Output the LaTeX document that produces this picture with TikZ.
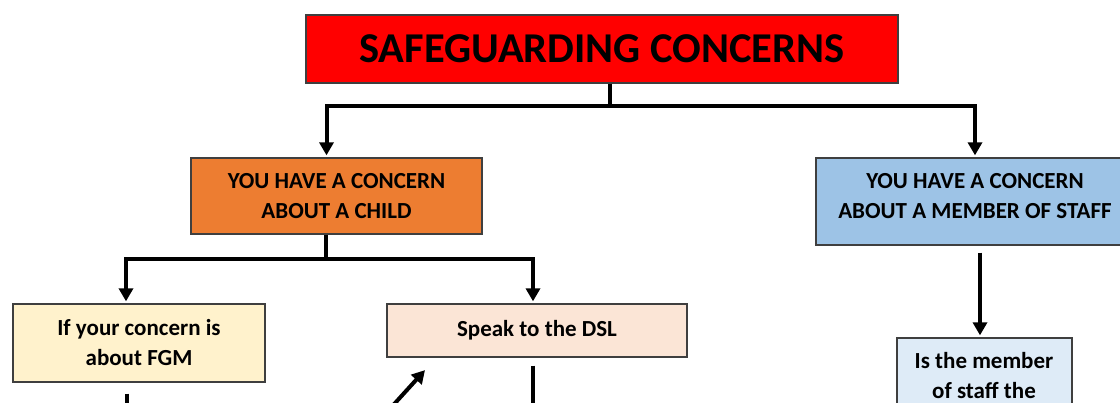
\documentclass[tikz,border=0pt]{standalone}
\usepackage{fontspec}
\setmainfont{Carlito}
\usetikzlibrary{arrows.meta}
\definecolor{tred}{HTML}{FF0000}
\definecolor{torange}{HTML}{ED7D31}
\definecolor{tyellow}{HTML}{FFF2CC}
\definecolor{tpeach}{HTML}{FBE5D6}
\definecolor{tblue}{HTML}{9DC3E6}
\definecolor{tlblue}{HTML}{DEEBF7}
\definecolor{boxline}{HTML}{3F3F3F}
\begin{document}
\begin{tikzpicture}[x=1pt,y=-1pt,
  box/.style={draw=boxline, line width=1.3pt, inner sep=0pt, align=center,
    font=\bfseries\fontsize{23}{30}\selectfont},
  txt/.style={inner sep=0pt, align=center, font=\bfseries\fontsize{23}{30}\selectfont},
  seg/.style={line width=4pt},
  conn/.style={line width=4pt, -{Triangle[length=13pt,width=14pt]}, shorten >=2pt}]
\useasboundingbox (0,0) rectangle (1120,403);
\fill[white] (0,0) rectangle (1120,403);
\clip (0,0) rectangle (1120,403);

\node[box, fill=tred, minimum width=592, minimum height=68,
  font=\bfseries\fontsize{42.5}{42.5}\selectfont] (title) at (602,49) {SAFEGUARDING CONCERNS};
\node[box, fill=torange, minimum width=291, minimum height=76] (child) at (336.5,196)
  {YOU HAVE A CONCERN\\ABOUT A CHILD};
\node[box, fill=tyellow, minimum width=252, minimum height=78] (fgm) at (139,343)
  {If your concern is\\about FGM};
\node[box, fill=tpeach, minimum width=300, minimum height=53] (dsl) at (537,330.5)
  {Speak to the DSL};
\node[box, fill=tblue, minimum width=318, minimum height=87] (staff) at (975,201.5) {};
\node[txt] (staffT) at (975,196.5) {YOU HAVE A CONCERN\\ABOUT A MEMBER OF STAFF};
\node[box, fill=tlblue, minimum width=175, minimum height=130] (member) at (984.5,403) {};
\node[txt] (memberT) at (984,375.5) {Is the member\\of staff the};

% title to both concerns
\draw[seg] ([xshift=8pt]title.south) -- ++(0,22) coordinate (j1);
\draw[conn] (j1) -| ([xshift=-10pt]child.north);
\draw[conn] (j1) -| (staff.north);

% child to fgm and dsl
\draw[seg] ([xshift=-11pt]child.south) -- ++(0,24) coordinate (j2);
\draw[conn] (j2) -| ([xshift=-13pt]fgm.north);
\draw[conn] (j2) -| ([xshift=-4pt]dsl.north);

% staff to member
\draw[conn, shorten <=7pt] ([xshift=5pt]staff.south) -- ([xshift=5pt]staff.south |- member.north);

% lines leaving the picture
\coordinate (fgmend) at (127,430);
\draw[seg, shorten <=11pt] (fgm.south -| fgmend) -- (fgmend);
\coordinate (dslend) at (533,430);
\draw[seg, shorten <=8pt] (dsl.south -| dslend) -- (dslend);
\coordinate (dtail) at (377,423);
\draw[conn] (dtail) -- ([xshift=40pt,yshift=-11pt]dsl.south west);
\end{tikzpicture}
\end{document}
